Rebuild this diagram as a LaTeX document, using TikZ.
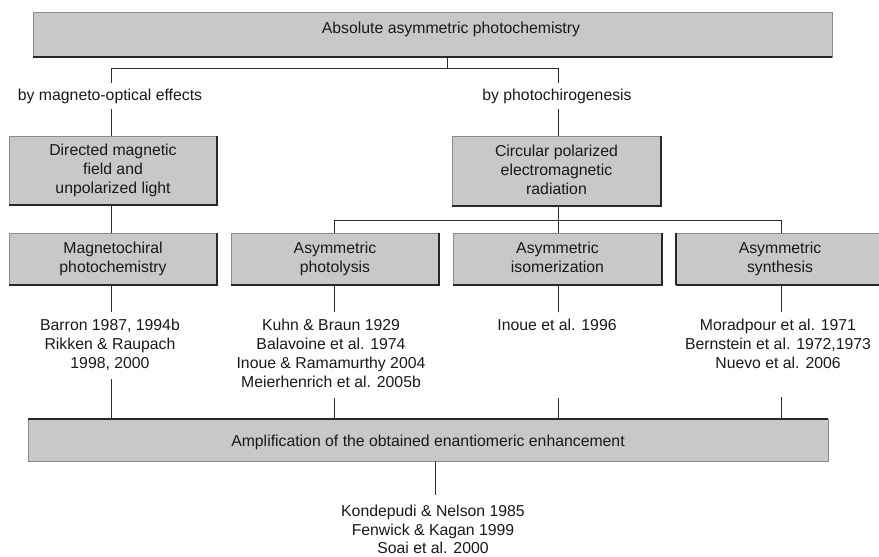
\documentclass[tikz,border=0pt]{standalone}
\usepackage{fontspec}
\setmainfont{Liberation Sans}
\definecolor{boxfill}{RGB}{200,200,202}
\definecolor{boxedge}{RGB}{140,140,140}
\definecolor{edgedark}{RGB}{40,40,40}
\definecolor{wirecol}{RGB}{45,45,45}
\begin{document}
\begin{tikzpicture}[x=1pt,y=-1pt,
  every node/.style={font=\fontsize{15.8}{19}\selectfont, text=black!90},
  panel/.style={draw=boxedge, fill=boxfill, line width=0.9pt, inner sep=0pt,
    outer sep=0pt, align=center, anchor=north west},
  ledge/.style={draw=edgedark, line width=2pt},
  wire/.style={draw=wirecol, line width=0.9pt},
  caption/.style={inner xsep=0pt, inner ysep=6pt, outer sep=0pt, anchor=base},
  refs/.style={align=center, inner xsep=0pt, inner ysep=8pt, outer sep=0pt, anchor=north}]
\useasboundingbox (0,0) rectangle (879,557);

% column guides for the vertical connectors
\coordinate (cA) at (111,0);
\coordinate (cB) at (334,0);
\coordinate (cC) at (558,0);
\coordinate (cD) at (781,0);
\coordinate (cE) at (435,0);
\coordinate (jt) at (447,68);
\coordinate (jc) at (558,220);

% branch captions and reference lists
\node[caption] (lab1) at (110,100) {by magneto-optical effects};
\node[caption] (lab2) at (557,100) {by photochirogenesis};
\node[refs] (refA) at (110,311.5) {Barron 1987, 1994b\\Rikken \& Raupach\\1998, 2000};
\node[refs] (refB) at (331,311.5) {Kuhn \& Braun 1929\\Balavoine et al. 1974\\Inoue \& Ramamurthy 2004\\Meierhenrich et al. 2005b};
\node[refs] (refC) at (557,311.5) {Inoue et al. 1996};
\node[refs] (refD) at (778,311.5) {Moradpour et al. 1971\\Bernstein et al. 1972,1973\\Nuevo et al. 2006};
\node[refs, inner ysep=0pt, font=\fontsize{15.8}{18.2}\selectfont] (refE) at (433,505.5) {Kondepudi \& Nelson 1985\\Fenwick \& Kagan 1999\\Soai et al. 2000};

% free ends of the feeds into and out of the amplification bar
\coordinate (lA) at (111,379);
\coordinate (lB) at (334,398);
\coordinate (lC) at (558,398);
\coordinate (lD) at (781,397);
\coordinate (lE) at (435,495);

% boxes
\node[panel, minimum width=799pt, minimum height=45pt] (top) at (33,12) {};
\node[anchor=base, inner sep=0pt] (toptxt) at (451,33) {Absolute asymmetric photochemistry};
\node[panel, minimum width=208pt, minimum height=69pt] (dir) at (9,136) {Directed magnetic\\field and\\unpolarized light};
\node[panel, minimum width=209pt, minimum height=70pt] (circ) at (452,136) {Circular polarized\\electromagnetic\\radiation\vphantom{y}};
\node[panel, minimum width=208pt, minimum height=52pt] (mag) at (9,233) {Magnetochiral\\photochemistry};
\node[panel, minimum width=208pt, minimum height=52pt] (phot) at (231,233) {Asymmetric\\photolysis};
\node[panel, minimum width=209pt, minimum height=52pt] (isom) at (453,233) {Asymmetric\\isomerization\vphantom{y}};
\node[panel, minimum width=208pt, minimum height=52pt] (synth) at (676,233) {Asymmetric\\synthesis};
\node[panel, minimum width=800pt, minimum height=42pt, text height=17pt, text depth=3.3pt] (amp) at (28,419) {Amplification of the obtained enantiomeric enhancement};

% connectors
\draw[wire] (jt |- top.south) -- (jt);
\draw[wire] (lab1.north -| cA) |- (jt);
\draw[wire] (lab2.north -| cC) |- (jt);
\draw[wire] (lab1.south -| cA) -- (dir.north -| cA);
\draw[wire] (lab2.south -| cC) -- (circ.north -| cC);
\draw[wire] (dir.south -| cA) -- (mag.north -| cA);
\draw[wire] (circ.south -| cC) -- (jc);
\draw[wire] (jc) -- (isom.north -| cC);
\draw[wire] (phot.north -| cB) |- (jc);
\draw[wire] (synth.north -| cD) |- (jc);
\draw[wire] (mag.south -| cA) -- (refA.north -| cA);
\draw[wire] (phot.south -| cB) -- (refB.north -| cB);
\draw[wire] (isom.south -| cC) -- (refC.north -| cC);
\draw[wire] (synth.south -| cD) -- (refD.north -| cD);
\draw[wire] (lA) -- (amp.north -| lA);
\draw[wire] (lB) -- (amp.north -| lB);
\draw[wire] (lC) -- (amp.north -| lC);
\draw[wire] (lD) -- (amp.north -| lD);
\draw[wire] (amp.south -| cE) -- (lE);

% dark edges on the boxes
\draw[ledge] (top.south west) -- (top.south east);
\foreach \b in {dir,circ,mag,phot,isom,synth}
  \draw[ledge] (\b.south west) -- (\b.south east) -- (\b.north east);
\draw[ledge] (synth.south west) -- (synth.north west);
\draw[ledge] (amp.north west) -- (amp.north east);
\end{tikzpicture}
\end{document}
